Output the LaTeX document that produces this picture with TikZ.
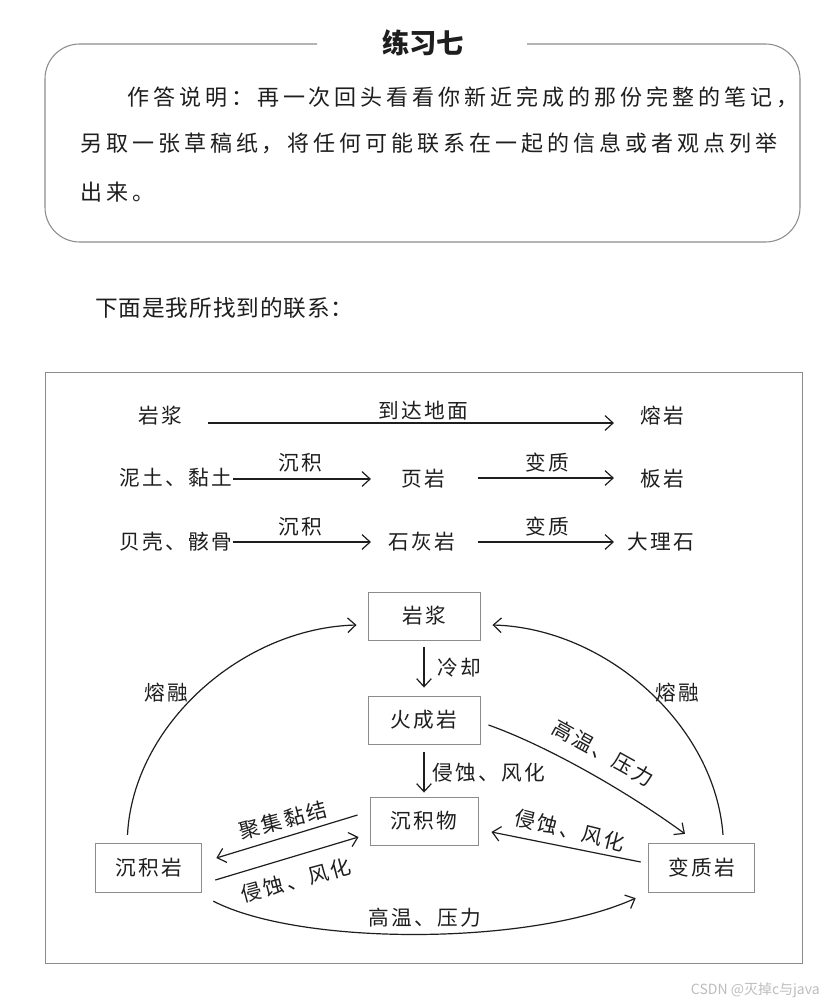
\documentclass[tikz,border=0pt]{standalone}
\usepackage{fontspec}
\usetikzlibrary{arrows.meta}
\newfontfamily\cjk{Noto Sans CJK SC}
\newfontfamily\cjkls[LetterSpace=11]{Noto Sans CJK SC}
\newfontfamily\cjkbody[LetterSpace=18]{Noto Sans CJK SC}
\newfontfamily\cjkhead[LetterSpace=4]{Noto Sans CJK SC}
\definecolor{ink}{HTML}{1E1E1E}
\definecolor{frame}{HTML}{8C8C8C}
\definecolor{wm}{HTML}{BDBDBD}
\tikzset{
  lbl/.style={inner sep=0pt, text=ink, font=\cjkls\fontsize{15.5pt}{18pt}\selectfont},
  bodytext/.style={inner sep=0pt, anchor=west, text=ink, font=\cjkbody\fontsize{16.5pt}{19pt}\selectfont},
  rockbox/.style={draw=frame, line width=0.7pt, inner sep=0pt, minimum height=36pt, minimum width=82pt, text=ink, font=\cjkls\fontsize{15.5pt}{18pt}\selectfont},
  arr/.style={draw=ink, line width=0.9pt, -{Straight Barb[length=6pt,width=11pt]}},
}
\begin{document}
\begin{tikzpicture}[x=0.75pt,y=-0.75pt]
\useasboundingbox[fill=white] (0,0) rectangle (832,1005);

% header panel
\node[inner sep=0pt, text=ink, font=\cjk\bfseries\fontsize{20.5pt}{22pt}\selectfont] (title) at (423,43) {练习七};
\draw[frame, line width=0.8pt, rounded corners=26pt] (317,44) -- (45,44) -- (45,242) -- (800,242) -- (800,44) -- (527,44);
\node[bodytext] (l1) at (127,97) {作答说明：再一次回头看看你新近完成的那份完整的笔记，};
\node[bodytext] (l2) at (80,143) {另取一张草稿纸，将任何可能联系在一起的信息或者观点列举};
\node[bodytext] (l3) at (80,192) {出来。};

\node[inner sep=0pt, anchor=west, text=ink, font=\cjkhead\fontsize{17pt}{19pt}\selectfont] (intro) at (95,308) {下面是我所找到的联系：};

% diagram frame
\draw[frame, line width=0.7pt] (45,372) rectangle (802,963);

% rows
\node[lbl] (r1a) at (160,416) {岩浆};
\node[lbl] (r1l) at (423,411) {到达地面};
\node[lbl] (r1b) at (662,416) {熔岩};
\draw[arr] ([shift={(26,7)}]r1a.east) -- ([shift={(-26,7)}]r1b.west);

\node[lbl] (r2a) at (175.5,478) {泥土、黏土};
\node[lbl] (r2l1) at (300,463) {沉积};
\node[lbl] (r2b) at (423,479) {页岩};
\node[lbl] (r2l2) at (547,463) {变质};
\node[lbl] (r2c) at (662,479) {板岩};
\draw[arr] ([shift={(1,1)}]r2a.east) -- ([shift={(-30,0)}]r2b.west);
\draw[arr] ([shift={(33,-1)}]r2b.east) -- ([shift={(-26,-1)}]r2c.west);

\node[lbl] (r3a) at (175.5,542) {贝壳、骸骨};
\node[lbl] (r3l1) at (300,527) {沉积};
\node[lbl] (r3b) at (422,542) {石灰岩};
\node[lbl] (r3l2) at (547,527) {变质};
\node[lbl] (r3c) at (661,542) {大理石};
\draw[arr] ([shift={(1,0)}]r3a.east) -- ([shift={(-17.5,0)}]r3b.west);
\draw[arr] ([shift={(22.5,0)}]r3b.east) -- ([shift={(-13.5,0)}]r3c.west);

% rock cycle
\node[rockbox, minimum width=84pt] (mag) at (424,616) {岩浆};
\node[rockbox, minimum width=84pt] (ign) at (424,720) {火成岩};
\node[rockbox, minimum width=81pt] (sed) at (424,821) {沉积物};
\node[rockbox, minimum width=80pt, minimum height=37pt] (sr) at (148.5,868) {沉积岩};
\node[rockbox, minimum width=80pt, minimum height=37pt] (mr) at (701.5,868) {变质岩};

\draw[arr] ([shift={(0,7)}]mag.south) -- ([shift={(0,-8)}]ign.north);
\node[lbl, anchor=west] (cool) at (437,668) {冷却};
\draw[arr] ([shift={(0,8)}]ign.south) -- ([shift={(0,-4)}]sed.north);
\node[lbl, anchor=west] (ew1) at (432,773) {侵蚀、风化};

\draw[arr] ([shift={(-21,-8)}]sr.north) .. controls (133,725) and (242,628) .. ([shift={(-11,9)}]mag.west);
\node[lbl] (melt1) at (166,693) {熔融};
\draw[arr] ([shift={(21.5,-8)}]mr.north) .. controls (715,725) and (606,628) .. ([shift={(12,9)}]mag.east);
\node[lbl] (melt2) at (677,693) {熔融};

\draw[arr] ([shift={(8,5)}]ign.east) .. controls (545,745) and (625,790) .. ([shift={(-16.5,-9)}]mr.north);
\node[lbl, rotate=-29] (hp1) at (603,753) {高温、压力};

\draw[arr] ([shift={(-12,-6)}]sed.west) -- ([shift={(14,-10)}]sr.east);
\node[lbl, rotate=15] (agg) at (283,820) {聚集黏结};
\draw[arr] ([shift={(13,12)}]sr.east) -- ([shift={(-11,16)}]sed.west);
\node[lbl, rotate=15] (ew2) at (296,880) {侵蚀、风化};

\draw[arr] ([shift={(-7,-6)}]mr.west) -- ([shift={(13,11)}]sed.east);
\node[lbl, rotate=-14] (ew3) at (570,830) {侵蚀、风化};

\draw[arr] ([shift={(11,8)}]sr.south east) .. controls (300,946) and (530,946) .. ([shift={(-12,5)}]mr.south west);
\node[lbl] (hp2) at (425,918) {高温、压力};

% watermark
\node[inner sep=0pt, anchor=east, text=wm, font=\cjk\fontsize{10.5pt}{12pt}\selectfont] (wmk) at (820,990) {CSDN @灭掉c与java};
\end{tikzpicture}
\end{document}
